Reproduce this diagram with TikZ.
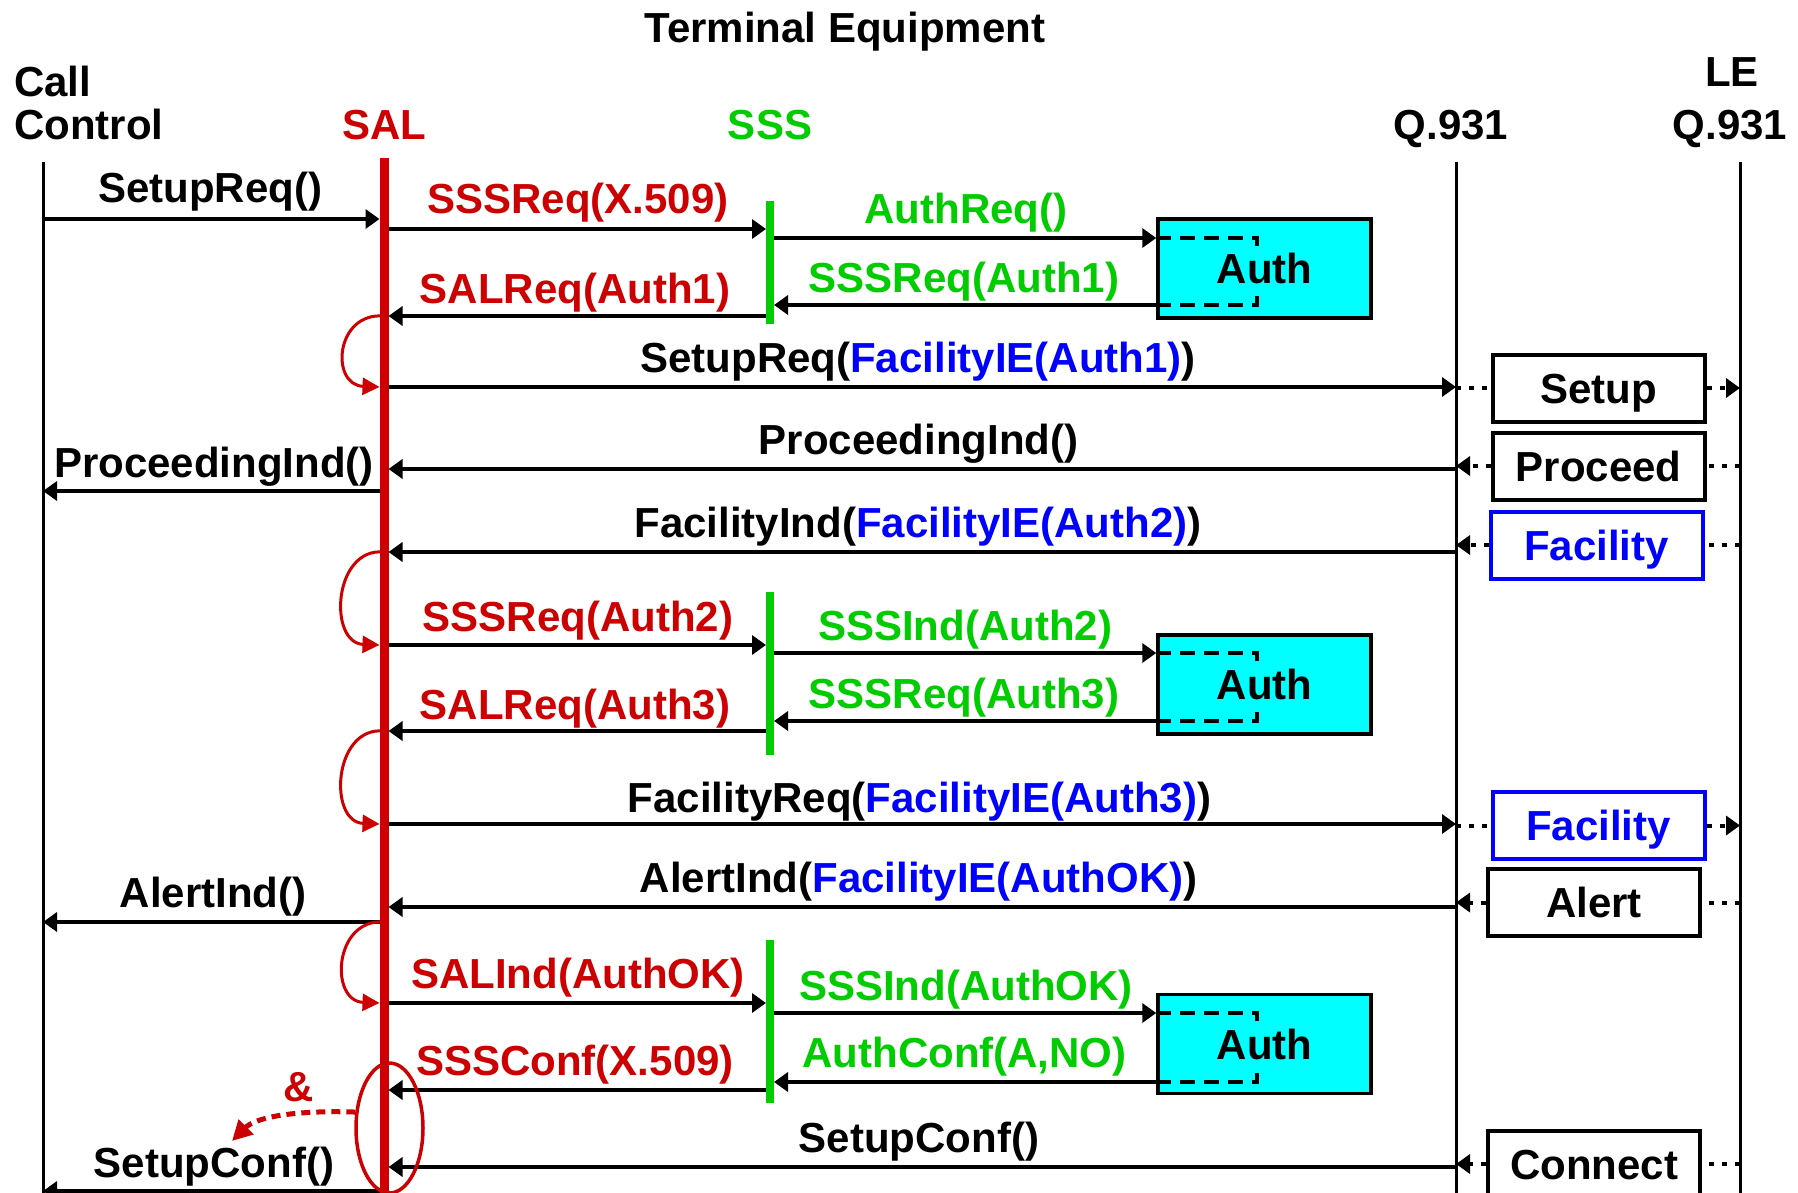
\documentclass[tikz,border=0pt]{standalone}
\usepackage{fontspec}
\setmainfont{Liberation Sans}
\usetikzlibrary{arrows.meta,shapes.geometric}
\definecolor{sred}{RGB}{204,0,0}
\definecolor{sgreen}{RGB}{0,204,0}
\definecolor{sblue}{RGB}{0,0,255}
\definecolor{scyan}{RGB}{0,255,255}
\begin{document}
\begin{tikzpicture}[x=1pt,y=-1pt,
  lbl/.style={font=\bfseries\fontsize{42}{50}\selectfont, inner sep=0pt, anchor=base},
  lblw/.style={lbl, anchor=base west},
  msg/.style={line width=3.5pt, -{Triangle[length=14pt,width=19pt]}},
  life/.style={line width=3pt},
  dots/.style={line width=4pt, dash pattern=on 5pt off 8pt},
  dotsarrow/.style={dots, -{Triangle[length=14pt,width=19pt]}},
  qbox/.style={draw, line width=4pt, minimum width=212pt, minimum height=67pt, inner sep=0pt,
    font=\bfseries\fontsize{42}{50}\selectfont, text height=30pt, text depth=0pt},
  authbox/.style={draw, fill=scyan, line width=3.5pt, minimum width=213pt, minimum height=99pt, inner sep=0pt,
    font=\bfseries\fontsize{42}{50}\selectfont, text height=30pt, text depth=0pt},
  dashbr/.style={line width=3.5pt, dash pattern=on 15pt off 9pt},
  tick/.style={line width=3.5pt},
  loop/.style={sred, line width=3pt, -{Triangle[length=17pt,width=17pt]}},
  sssbar/.style={sgreen, line width=8pt}
]
\useasboundingbox (0,0) rectangle (1798,1193);
\fill[white] (0,0) rectangle (1798,1193);
\clip (0,0) rectangle (1798,1193);

% lifeline reference coordinates
\coordinate (CC) at (43,0);
\coordinate (SAL) at (384,0);
\coordinate (SALl) at (379.5,0);
\coordinate (SALr) at (388.5,0);
\coordinate (SSS) at (770,0);
\coordinate (SSSl) at (766,0);
\coordinate (SSSr) at (774,0);
\coordinate (Q) at (1456,0);
\coordinate (LE) at (1740,0);

% headers
\node[lbl] (hTE) at (845,43) {Terminal Equipment};
\node[lblw] (hCall) at (14,97) {Call};
\node[lblw] (hCtrl) at (14,140) {Control};
\node[lbl, text=sred] (hSAL) at (384,140) {SAL};
\node[lbl, text=sgreen] (hSSS) at (770,140) {SSS};
\node[lbl] (hQ) at (1451,140) {Q.931};
\node[lbl] (hLE) at (1732,87) {LE};
\node[lbl] (hLEQ) at (1730,140) {Q.931};

% lifelines
\draw[life] (CC |- 0,162) -- (CC |- 0,1200);
\draw[life] (Q |- 0,162) -- (Q |- 0,1200);
\draw[life] (LE |- 0,162) -- (LE |- 0,1200);
\draw[sred, line width=9pt] (SAL |- 0,158) -- (SAL |- 0,1200);
\draw[sssbar] (SSS |- 0,201) -- (SSS |- 0,324);
\draw[sssbar] (SSS |- 0,592) -- (SSS |- 0,755);
\draw[sssbar] (SSS |- 0,940) -- (SSS |- 0,1103);

% auth boxes
\node[authbox] (auth1) at (1264.5,268.5) {Auth};
\node[authbox] (auth2) at (1264.5,684.5) {Auth};
\node[authbox] (auth3) at (1264.5,1044) {Auth};
\draw[dashbr] (auth1.west |- 0,238) -- (1257,238);
\draw[dashbr] (auth1.west |- 0,305) -- (1257,305);
\draw[tick] (1257,236.25) -- (1257,246);
\draw[tick] (1257,296) -- (1257,306.75);
\draw[dashbr] (auth2.west |- 0,653) -- (1257,653);
\draw[dashbr] (auth2.west |- 0,721) -- (1257,721);
\draw[tick] (1257,651.25) -- (1257,661);
\draw[tick] (1257,712) -- (1257,722.75);
\draw[dashbr] (auth3.west |- 0,1013) -- (1257,1013);
\draw[dashbr] (auth3.west |- 0,1082) -- (1257,1082);
\draw[tick] (1257,1011.25) -- (1257,1021);
\draw[tick] (1257,1073) -- (1257,1083.75);

% Q.931 message boxes
\node[qbox] (setup) at (1598.5,388) {Setup};
\node[qbox] (proceed) at (1598.5,466) {Proceed};
\node[qbox, draw=sblue, text=sblue] (fac1) at (1596.5,545) {Facility};
\node[qbox, draw=sblue, text=sblue] (fac2) at (1598.5,825.5) {Facility};
\node[qbox] (alert) at (1594,902.5) {Alert};
\node[qbox] (connect) at (1594,1164) {Connect};

% messages
\draw[msg] (CC |- 0,219) -- (SALl |- 0,219);
\node[lbl] (l1) at (210,203) {SetupReq()};
\draw[msg] (SALr |- 0,229) -- (SSSl |- 0,229);
\node[lbl, text=sred] (l2) at (578,213) {SSSReq(X.509)};
\draw[msg] (SSSr |- 0,238) -- (auth1.west |- 0,238);
\node[lbl, text=sgreen] (l3) at (966,223) {AuthReq()};
\draw[msg] (auth1.west |- 0,305) -- (SSSr |- 0,305);
\node[lbl, text=sgreen] (l4) at (964,292) {SSSReq(Auth1)};
\draw[msg] (SSSl |- 0,316) -- (SALr |- 0,316);
\node[lbl, text=sred] (l5) at (575,303) {SALReq(Auth1)};
\draw[loop] (SAL |- 0,316) .. controls (335,312) and (330,385) .. (SALl |- 0,387);

\draw[msg] (SALr |- 0,387) -- (Q |- 0,387);
\node[lbl] (l6) at (918,372) {SetupReq(\textcolor{sblue}{FacilityIE(Auth1)})};
\draw[dots] (Q |- setup.west) -- (setup.west);
\draw[dotsarrow] (setup.east) -- (LE |- setup.east);

\draw[dots] (LE |- proceed.east) -- (proceed.east);
\draw[dotsarrow] (proceed.west) -- (Q |- proceed.west);
\draw[msg] (Q |- 0,469) -- (SALr |- 0,469);
\node[lbl] (l7) at (918.5,454) {ProceedingInd()};
\draw[msg] (SALl |- 0,491) -- (CC |- 0,491);
\node[lbl] (l8) at (214,477) {ProceedingInd()};

\draw[dots] (LE |- fac1.east) -- (fac1.east);
\draw[dotsarrow] (fac1.west) -- (Q |- fac1.west);
\draw[msg] (Q |- 0,552) -- (SALr |- 0,552);
\node[lbl] (l9) at (918,537) {FacilityInd(\textcolor{sblue}{FacilityIE(Auth2)})};
\draw[loop] (SAL |- 0,552) .. controls (333,547) and (328,643) .. (SALl |- 0,645);

\draw[msg] (SALr |- 0,645) -- (SSSl |- 0,645);
\node[lbl, text=sred] (l10) at (578,631) {SSSReq(Auth2)};
\draw[msg] (SSSr |- 0,653) -- (auth2.west |- 0,653);
\node[lbl, text=sgreen] (l11) at (965,640) {SSSInd(Auth2)};
\draw[msg] (auth2.west |- 0,721) -- (SSSr |- 0,721);
\node[lbl, text=sgreen] (l12) at (964,708) {SSSReq(Auth3)};
\draw[msg] (SSSl |- 0,731) -- (SALr |- 0,731);
\node[lbl, text=sred] (l13) at (575,719) {SALReq(Auth3)};
\draw[loop] (SAL |- 0,731) .. controls (333,726) and (328,822) .. (SALl |- 0,824);

\draw[msg] (SALr |- 0,824) -- (Q |- 0,824);
\node[lbl] (l14) at (919.5,812) {FacilityReq(\textcolor{sblue}{FacilityIE(Auth3)})};
\draw[dots] (Q |- fac2.west) -- (fac2.west);
\draw[dotsarrow] (fac2.east) -- (LE |- fac2.east);

\draw[dots] (LE |- alert.east) -- (alert.east);
\draw[dotsarrow] (alert.west) -- (Q |- alert.west);
\draw[msg] (Q |- 0,907) -- (SALr |- 0,907);
\node[lbl] (l15) at (918.5,892) {AlertInd(\textcolor{sblue}{FacilityIE(AuthOK)})};
\draw[msg] (SALl |- 0,922) -- (CC |- 0,922);
\node[lbl] (l16) at (213,907) {AlertInd()};
\draw[loop] (SAL |- 0,922) .. controls (334,918) and (329,1001) .. (SALl |- 0,1003);

\draw[msg] (SALr |- 0,1003) -- (SSSl |- 0,1003);
\node[lbl, text=sred] (l17) at (578,988) {SALInd(AuthOK)};
\draw[msg] (SSSr |- 0,1013) -- (auth3.west |- 0,1013);
\node[lbl, text=sgreen] (l18) at (966,1000) {SSSInd(AuthOK)};
\draw[msg] (auth3.west |- 0,1082) -- (SSSr |- 0,1082);
\node[lbl, text=sgreen] (l19) at (964.5,1067) {AuthConf(A,NO)};
\draw[msg] (SSSl |- 0,1090) -- (SALr |- 0,1090);
\node[lbl, text=sred] (l20) at (575,1075) {SSSConf(X.509)};

\draw[dots] (LE |- connect.east) -- (connect.east);
\draw[dotsarrow] (connect.west) -- (Q |- connect.west);
\draw[msg] (Q |- 0,1167) -- (SALr |- 0,1167);
\node[lbl] (l21) at (919,1152) {SetupConf()};
\draw[msg] (SALl |- 0,1191) -- (CC |- 0,1191);
\node[lbl] (l22) at (214,1177) {SetupConf()};

% ellipse and & arrow
\node[ellipse, draw=sred, line width=3.5pt, minimum width=67pt, minimum height=130pt, inner sep=0pt] (ell) at (389.5,1128) {};
\draw[sred, line width=5pt, dash pattern=on 9pt off 6pt, -{Triangle[length=20pt,width=20pt]}]
  (ell.155) .. controls (290,1110) and (255,1118) .. (232,1141);
\node[lbl, text=sred] (amp) at (299,1101) {\&};
\end{tikzpicture}
\end{document}
